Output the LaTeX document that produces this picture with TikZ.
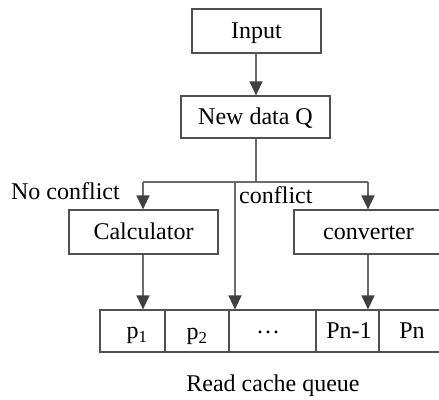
\documentclass[tikz,border=0pt]{standalone}
\usepackage{fontspec}
\setmainfont{Liberation Serif}
\usetikzlibrary{arrows.meta}
\definecolor{boxline}{HTML}{505050}
\definecolor{wire}{HTML}{6A6A6A}
\definecolor{tip}{HTML}{404040}
\begin{document}
\begin{tikzpicture}[x=1pt,y=-1pt,
  font=\fontsize{24}{26}\selectfont,
  box/.style={draw=boxline, line width=1.2pt, inner sep=0pt, minimum height=44pt,
    text height=15.6pt, text depth=0pt},
  cell/.style={draw=boxline, line width=1.2pt, inner sep=0pt, minimum height=42pt},
  flow/.style={draw=wire, line width=1.3pt, -{Triangle[length=14pt,width=13pt,color=tip]}},
  wire/.style={draw=wire, line width=1.3pt},
  lbl/.style={inner sep=0pt},
  celltext/.style={inner sep=0pt, text height=15.6pt, text depth=0pt}]
\useasboundingbox (0,0) rectangle (439,399);
\begin{scope}
\clip (0,0) rectangle (439,399);
% processing boxes
\node[box, minimum width=129pt] (input) at (256.5,31) {Input};
\node[box, minimum width=149pt, minimum height=42pt] (newq) at (255.5,117) {New data Q};
\node[box, minimum width=149pt] (calc) at (143.5,232) {Calculator};
\node[box, minimum width=149pt] (conv) at (368.5,232) {converter};
% read cache queue cells
\node[cell, minimum width=65pt] (q1) at (132.5,331) {};
\node[cell, minimum width=64pt] (q2) at (197,331) {};
\node[cell, minimum width=87pt] (q3) at (272.5,331) {};
\node[cell, minimum width=63pt] (q4) at (347.5,331) {};
\node[cell, minimum width=64pt] (q5) at (411,331) {};
\node[celltext] (t1) at (137,331) {p\textsubscript{1}};
\node[celltext] (t2) at (197,332) {p\textsubscript{2}};
\node[celltext] (t3) at (268,331) {\raisebox{0.22em}{\char"2026}};
\node[celltext] (t4) at (349,331) {Pn-1};
\node[celltext] (t5) at (412,331) {Pn};
\node[lbl] (cap) at (273,386) {Read cache queue};
% branch points
\coordinate (fork) at (256,182);
\coordinate (bl) at (143,182);
\coordinate (bc) at (235,182);
\coordinate (br) at (368,182);
% connectors
\draw[flow] (input.south -| fork) -- (newq.north -| fork);
\draw[wire] (newq.south -| fork) -- (fork);
\draw[wire] (bl) -- (br);
\draw[flow] (bl) -- (calc.north -| bl);
\draw[flow] (br) -- (conv.north -| br);
\draw[flow] (bc) -- (bc |- q3.north);
\draw[flow] (calc.south -| bl) -- (bl |- q1.north);
\draw[flow] (conv.south -| br) -- (br |- q4.north);
% branch labels
\node[lbl, anchor=base east] (nc) at (120,199) {No conflict};
\node[lbl, anchor=base west] (cf) at (239,203) {conflict};
\end{scope}
\end{tikzpicture}
\end{document}
